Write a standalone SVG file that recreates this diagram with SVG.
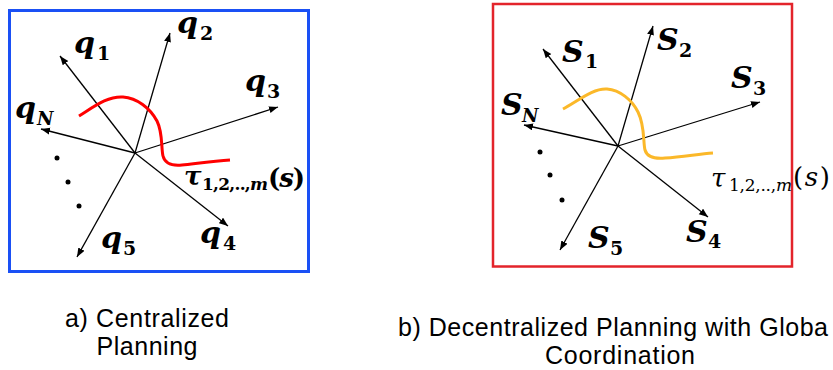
<svg xmlns="http://www.w3.org/2000/svg" width="833" height="370" viewBox="0 0 833 370">
<style>
.m{font-family:"DejaVu Serif","Liberation Serif",serif;font-style:italic;font-weight:bold;font-size:30px;fill:#000}
.sb{font-style:normal;font-size:19px}
.si{font-style:italic;font-size:18px}
.tau{font-family:"DejaVu Serif","Liberation Serif",serif;font-size:26px;fill:#000}
.ts{font-size:17px}
.cap{font-family:"Liberation Sans",Arial,sans-serif;font-size:25px;fill:#000}
.ax{stroke:#000;stroke-width:1.3;fill:none;marker-end:url(#ah)}
.dot{fill:#000}
</style>
<defs>
<marker id="ah" markerUnits="userSpaceOnUse" markerWidth="10" markerHeight="8" refX="9" refY="3.5" orient="auto">
<path d="M0,0 L9,3.5 L0,7 z" fill="#000"/>
</marker>
</defs>
<rect width="833" height="370" fill="#fff"/>

<g id="panel-a">
<rect x="9.5" y="10.5" width="299" height="261" fill="none" stroke="#1a50f5" stroke-width="3"/>
<g id="axes-a">
<line class="ax" x1="135" y1="153" x2="60" y2="56"/>
<line class="ax" x1="135" y1="153" x2="170" y2="33"/>
<line class="ax" x1="135" y1="153" x2="278" y2="107"/>
<line class="ax" x1="135" y1="153" x2="41" y2="129"/>
<line class="ax" x1="135" y1="153" x2="228" y2="226"/>
<line class="ax" x1="135" y1="153" x2="77" y2="257"/>
</g>
<path d="M79,116 C95,106 108,96 123,97 C137,98 150,108 157,121 C163,133 161,148 163,156 C165,164 172,166 182,165 C200,163 215,161 230,160" fill="none" stroke="#ff0000" stroke-width="3"/>
<circle class="dot" cx="57" cy="158" r="2.5"/>
<circle class="dot" cx="68" cy="182" r="2.5"/>
<circle class="dot" cx="79" cy="206" r="2.5"/>
<g id="labels-a">
<text class="m" x="74" y="53">q<tspan class="sb" x="97" y="60">1</tspan></text>
<text class="m" x="177" y="33">q<tspan class="sb" x="200" y="40">2</tspan></text>
<text class="m" x="245" y="91">q<tspan class="sb" x="267" y="98">3</tspan></text>
<text class="m" x="15" y="118">q<tspan class="si" x="37" y="125">N</tspan></text>
<text class="m" x="200" y="243">q<tspan class="sb" x="223" y="250">4</tspan></text>
<text class="m" x="101" y="248">q<tspan class="sb" x="123" y="255">5</tspan></text>
<text class="tau" font-weight="bold" x="184" y="185"><tspan font-style="italic">τ</tspan><tspan class="ts" x="202" y="190" textLength="66">1,2,..,<tspan font-style="italic">m</tspan></tspan><tspan x="268" y="187" textLength="37">(<tspan font-style="italic">s</tspan>)</tspan></text>
</g>
</g>

<g id="panel-b">
<rect x="493" y="4" width="299" height="262.5" fill="none" stroke="#e3242b" stroke-width="2.5"/>
<g id="axes-b">
<line class="ax" x1="618" y1="146" x2="543" y2="49"/>
<line class="ax" x1="618" y1="146" x2="653" y2="26"/>
<line class="ax" x1="618" y1="146" x2="760" y2="102"/>
<line class="ax" x1="618" y1="146" x2="524" y2="125"/>
<line class="ax" x1="618" y1="146" x2="708" y2="217"/>
<line class="ax" x1="618" y1="146" x2="560" y2="250"/>
</g>
<path d="M563,109 C578,101 593,88 607,89 C620,90 632,100 638,112 C645,126 643,142 645,150 C647,157 654,159 665,158 C683,157 698,154 713,153" fill="none" stroke="#fbb829" stroke-width="3"/>
<circle class="dot" cx="540" cy="152" r="2.5"/>
<circle class="dot" cx="550" cy="175" r="2.5"/>
<circle class="dot" cx="562" cy="200" r="2.5"/>
<g id="labels-b">
<text class="m" x="562" y="62">S<tspan class="sb" x="585" y="68">1</tspan></text>
<text class="m" x="657" y="50">S<tspan class="sb" x="679" y="57">2</tspan></text>
<text class="m" x="731" y="88">S<tspan class="sb" x="753" y="95">3</tspan></text>
<text class="m" x="501" y="115">S<tspan class="si" x="522" y="122">N</tspan></text>
<text class="m" x="686" y="242">S<tspan class="sb" x="708" y="248">4</tspan></text>
<text class="m" x="588" y="248">S<tspan class="sb" x="610" y="255">5</tspan></text>
<text class="tau" x="711" y="187"><tspan font-style="italic">τ</tspan><tspan class="ts" x="729" y="191" textLength="63">1,2,..,<tspan font-style="italic">m</tspan></tspan><tspan x="793" y="186" textLength="37">(<tspan font-style="italic">s</tspan>)</tspan></text>
</g>
</g>

<g id="captions">
<text class="cap" text-anchor="middle" x="147" y="327" textLength="164">a) Centralized</text>
<text class="cap" text-anchor="middle" x="147" y="355" textLength="101">Planning</text>
<text class="cap" x="398" y="336" textLength="430">b) Decentralized Planning with Globa</text>
<text class="cap" text-anchor="middle" x="620" y="364" textLength="150">Coordination</text>
</g>
</svg>
